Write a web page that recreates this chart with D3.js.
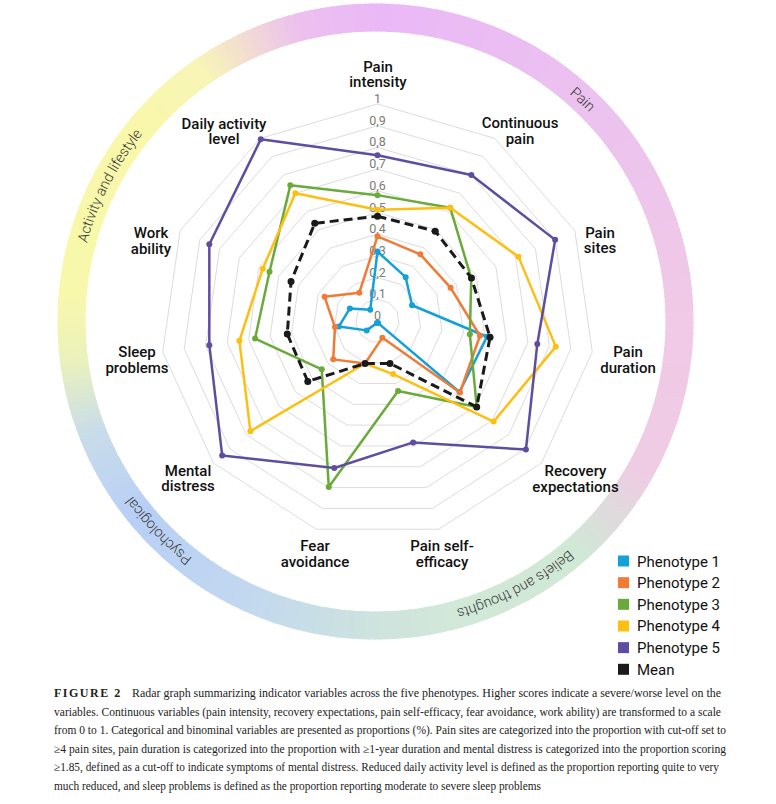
<!DOCTYPE html>
<html><head><meta charset="utf-8">
<script src="https://cdn.jsdelivr.net/npm/d3@7"></script>
<style>body{margin:0;background:#fff} svg{display:block}</style>
</head><body>
<svg id="chart" width="776" height="804"></svg>
<script>
// ---------------- DATA ----------------
const axes = ["Pain intensity","Continuous pain","Pain sites","Pain duration","Recovery expectations",
  "Pain self-efficacy","Fear avoidance","Mental distress","Sleep problems","Work ability","Daily activity level"];
const axisLabelLines = [["Pain","intensity"],["Continuous","pain"],["Pain","sites"],["Pain","duration"],
  ["Recovery","expectations"],["Pain self-","efficacy"],["Fear","avoidance"],["Mental","distress"],
  ["Sleep","problems"],["Work","ability"],["Daily activity","level"]];
const seriesNames = ["Phenotype 1","Phenotype 2","Phenotype 3","Phenotype 4","Phenotype 5","Mean"];
const phenotype1 = [0.32, 0.24, 0.175, 0.51, 0.50, 0.01, 0.01, 0.066, 0.18, 0.14, 0.062];
const phenotype2 = [0.39, 0.365, 0.37, 0.477, 0.503, 0.08, 0.204, 0.27, 0.198, 0.268, 0.155];
const phenotype3 = [0.58, 0.62, 0.475, 0.43, 0.605, 0.336, 0.797, 0.34, 0.57, 0.547, 0.743];
const phenotype4 = [0.513, 0.62, 0.714, 0.83, 0.708, 0.255, 0.204, 0.775, 0.643, 0.581, 0.70];
const phenotype5 = [0.764, 0.80, 0.90, 0.744, 0.905, 0.583, 0.706, 0.947, 0.783, 0.852, 0.995];
const meanValues = [0.483, 0.492, 0.476, 0.524, 0.605, 0.204, 0.204, 0.425, 0.42, 0.438, 0.535];
const tickValues = [0,0.1,0.2,0.3,0.4,0.5,0.6,0.7,0.8,0.9,1];
const tickLabels = ["0","0,1","0,2","0,3","0,4","0,5","0,6","0,7","0,8","0,9","1"];
const ringGroups = ["Pain","Beliefs and thoughts","Psychological","Activity and lifestyle"];
const captionHead = "FIGURE 2";
const captionLines = [
  "Radar graph summarizing indicator variables across the five phenotypes. Higher scores indicate a severe/worse level on the",
  "variables. Continuous variables (pain intensity, recovery expectations, pain self-efficacy, fear avoidance, work ability) are transformed to a scale",
  "from 0 to 1. Categorical and binominal variables are presented as proportions (%). Pain sites are categorized into the proportion with cut-off set to",
  "\u22654 pain sites, pain duration is categorized into the proportion with \u22651-year duration and mental distress is categorized into the proportion scoring",
  "\u22651.85, defined as a cut-off to indicate symptoms of mental distress. Reduced daily activity level is defined as the proportion reporting quite to very",
  "much reduced, and sleep problems is defined as the proportion reporting moderate to severe sleep problems"
];

// ---------------- LAYOUT / STYLE ----------------
const seriesData = [phenotype1, phenotype2, phenotype3, phenotype4, phenotype5, meanValues];
const colors = ["#14a0d8","#ef7b35","#6aaa3a","#fdbf12","#5f4ea0","#1a1a1a"];
const cx = 377.5, cy = 321, R = 217;
const ringCx = 375.5, ringCy = 321.5, ringOuter = 318, ringInner = 290;
const ringGroupAngles = [43, 152, 226, 297];
// label centre offsets from the chart centre (layout, px)
const axisLabelOffset = [[0.5,-247],[142.5,-190.5],[222.5,-81],[250.5,38.5],[198,157.5],[64.5,232.5],
  [-62.5,232.5],[-189.5,157],[-240.5,38.5],[-226.5,-80.5],[-153.5,-190]];
const captionLineEnds = [721, 721, 726, 726, 719, 541];
const labelFont = "Roboto, 'DejaVu Sans', sans-serif";

const svg = d3.select("#chart");
const n = axes.length;
const angle = d3.scaleLinear().domain([0, n]).range([0, 2*Math.PI]);
const r = d3.scaleLinear().domain([0, 1]).range([0, R]);

// ---- outer ring with blended colours ----
const ringStops = [-35, -15, 0, 45, 90, 118, 138, 165, 180, 205, 230, 248, 262, 275, 310, 325];
const ringCols  = ["#f8f5b8","#ecc0ef","#eab8f7","#ecc2ef","#f0cae6","#f0cbe4","#d0e8d6","#d2e8d8",
                   "#cde3de","#c2d8f0","#b8cff5","#c9dcea","#eaf1bd","#f8f8ac","#f8f7aa","#f8f5b8"];
const ringColor = d3.scaleLinear().domain(ringStops).range(ringCols).interpolate(d3.interpolateRgb);
const ringG = svg.append("g").attr("transform", `translate(${ringCx},${ringCy})`);
const arc = d3.arc().innerRadius(ringInner).outerRadius(ringOuter);
for (let a = -35; a < 325; a += 1) {
  ringG.append("path")
    .attr("d", arc({startAngle: a*Math.PI/180, endAngle: (a+1.3)*Math.PI/180}))
    .attr("fill", ringColor(a));
}
const tr = (ringOuter + ringInner) / 2;
svg.append("defs").append("path").attr("id","ringPath")
  .attr("d", `M ${ringCx},${ringCy-tr} A ${tr},${tr} 0 1 1 ${ringCx},${ringCy+tr} A ${tr},${tr} 0 1 1 ${ringCx},${ringCy-tr}`);
ringGroups.forEach((g, i) => {
  svg.append("text")
    .attr("font-family", labelFont).attr("font-size", 14.5).attr("font-weight", 300)
    .attr("fill", "#3a3a3a").attr("dy", "0.35em")
    .append("textPath").attr("href", "#ringPath")
    .attr("startOffset", (ringGroupAngles[i] / 360 * 2 * Math.PI * tr).toFixed(1))
    .attr("text-anchor", "middle")
    .text(g);
});

// ---- grid ----
const chartG = svg.append("g").attr("transform", `translate(${cx},${cy})`);
const radial = d3.lineRadial().angle((d, i) => angle(i)).radius(d => r(d)).curve(d3.curveLinearClosed);
chartG.append("g").selectAll("path").data(tickValues.filter(t => t > 0)).join("path")
  .attr("d", t => radial(axes.map(() => t)))
  .attr("fill", "none").attr("stroke", "#dcdcdc").attr("stroke-width", 1);

chartG.append("g").selectAll("text").data(tickValues).join("text")
  .attr("x", 0).attr("y", t => -r(t) - 1)
  .attr("text-anchor", "middle")
  .attr("font-family", labelFont).attr("font-size", 12.5)
  .attr("fill", "#7a7a7a")
  .text((t, i) => tickLabels[i]);

// axis labels
axes.forEach((a, i) => {
  const lines = axisLabelLines[i];
  const txt = chartG.append("text").attr("text-anchor", "middle")
    .attr("transform", `translate(${axisLabelOffset[i][0]},${axisLabelOffset[i][1]})`)
    .attr("font-family", labelFont).attr("font-size", 15).attr("font-weight", 500).attr("fill", "#111");
  lines.forEach((l, k) => txt.append("tspan").attr("x", 0).attr("y", (k - (lines.length-1)/2) * 15.5 + 5.5).text(l));
});

// ---- series ----
seriesData.forEach((vals, s) => {
  const isMean = s === seriesData.length - 1;
  chartG.append("path")
    .attr("d", radial(vals))
    .attr("fill", "none")
    .attr("stroke", colors[s])
    .attr("stroke-width", isMean ? 3 : 2.5)
    .attr("stroke-dasharray", isMean ? "9,5" : null)
    .attr("stroke-linejoin", "round");
  chartG.append("g").selectAll("circle").data(vals).join("circle")
    .attr("cx", (d, i) => Math.sin(angle(i)) * r(d))
    .attr("cy", (d, i) => -Math.cos(angle(i)) * r(d))
    .attr("r", isMean ? 3.5 : 3)
    .attr("fill", colors[s]);
});

// ---- legend ----
const legY = d3.scalePoint().domain(seriesNames).range([561, 669.3]);
const leg = svg.append("g");
seriesNames.forEach((name, i) => {
  leg.append("rect").attr("x", 618).attr("y", legY(name) - 5.5).attr("width", 11).attr("height", 11)
    .attr("fill", colors[i]);
  leg.append("text").attr("x", 637).attr("y", legY(name) + 5.5)
    .attr("font-family", labelFont).attr("font-size", 15).attr("fill", "#111").text(name);
});

// ---- caption ----
const cap = svg.append("g").attr("font-family", "'Liberation Serif', 'Times New Roman', serif")
  .attr("font-size", 12).attr("fill", "#222");
const capY = d3.scaleLinear().domain([0, captionLines.length - 1]).range([697, 789.5]);
cap.append("text").attr("x", 54).attr("y", capY(0)).attr("font-weight", "bold")
  .attr("letter-spacing", 1.5).text(captionHead);
const firstX = 132;
captionLines.forEach((l, k) => {
  const x0 = k === 0 ? firstX : 54;
  cap.append("text").attr("x", x0).attr("y", capY(k))
    .attr("textLength", captionLineEnds[k] - x0).attr("lengthAdjust", "spacingAndGlyphs")
    .text(l);
});
</script>
</body></html>
